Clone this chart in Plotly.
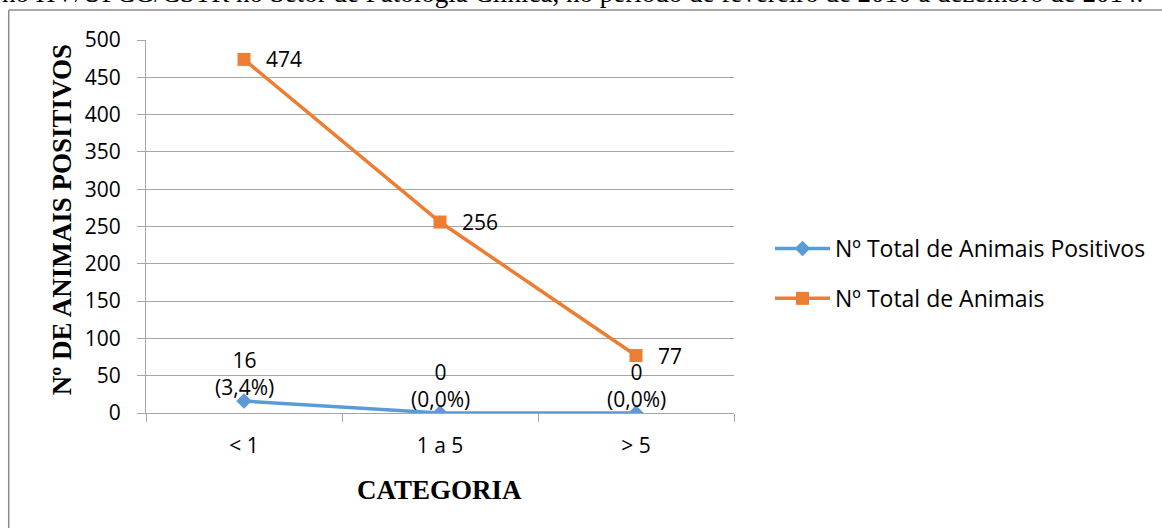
import plotly.graph_objects as go

# Age categories and counts
categorias = ["< 1", "1 a 5", "> 5"]
positivos = [16, 0, 0]
total = [474, 256, 77]

serie_pos = "Nº Total de Animais Positivos"
serie_tot = "Nº Total de Animais"

cabecalho = ("no HV/UFCG/CSTR no Setor de Patologia Clínica, no período de "
             "fevereiro de 2010 a dezembro de 2014.")

AZUL = "#5B9BD5"
LARANJA = "#ED7D31"
GRADE = "#A6A6A6"
SANS = "'Open Sans', Lato, sans-serif"
SERIF = "'Liberation Serif', 'Times New Roman', serif"

# plot area in pixels
W, H = 1162, 528
L, R, T, B = 146, 735, 40, 413


def px_x(p):
    return (p - L) / (R - L)


def px_y(p):
    return (B - p) / (B - T)


fig = go.Figure()
fig.add_trace(go.Scatter(
    x=categorias, y=positivos, name=serie_pos, mode="lines+markers",
    line=dict(color=AZUL, width=3.5),
    marker=dict(symbol="diamond", size=12, color=AZUL),
    legendgroup="a",
))
fig.add_trace(go.Scatter(
    x=categorias, y=total, name=serie_tot, mode="lines+markers",
    line=dict(color=LARANJA, width=3.5),
    marker=dict(symbol="square", size=13, color=LARANJA),
    legendgroup="b",
))

anots = []
# value labels for the total series, right of each point
for c, v in zip(categorias, total):
    anots.append(dict(x=c, y=v, xref="x", yref="y", text=str(v),
                      showarrow=False, xanchor="left", yanchor="middle",
                      xshift=20, font=dict(family=SANS, size=21, color="#000")))
# value + percentage labels for the positive series, above each point
for c, v, t in zip(categorias, positivos, total):
    pct = f"{100 * v / t:.1f}".replace(".", ",")
    anots.append(dict(x=c, y=v, xref="x", yref="y",
                      text=f"{v}<br>({pct}%)",
                      showarrow=False, xanchor="center", yanchor="bottom",
                      yshift=-2, font=dict(family=SANS, size=21, color="#000")))
# caption line running off the top edge
anots.append(dict(x=px_x(0), y=px_y(10), xref="paper", yref="paper",
                  text=cabecalho, showarrow=False, xanchor="left",
                  yanchor="bottom", font=dict(family=SERIF, size=27,
                                              color="#000")))
# axis titles
anots.append(dict(x=px_x(62), y=px_y(220), xref="paper", yref="paper",
                  text="<b>Nº DE ANIMAIS POSITIVOS</b>", textangle=-90,
                  showarrow=False, xanchor="center", yanchor="middle",
                  font=dict(family=SERIF, size=27, color="#000")))
anots.append(dict(x=px_x(440), y=px_y(490), xref="paper", yref="paper",
                  text="<b>CATEGORIA</b>", showarrow=False,
                  xanchor="center", yanchor="middle",
                  font=dict(family=SERIF, size=27, color="#000")))

# chart frame (top and left edges)
shapes = [
    dict(type="line", xref="paper", yref="paper",
         x0=px_x(8.5), x1=px_x(W + 5), y0=px_y(10), y1=px_y(10),
         line=dict(color="#8C8C8C", width=1.5)),
    dict(type="line", xref="paper", yref="paper",
         x0=px_x(8.5), x1=px_x(8.5), y0=px_y(10), y1=px_y(H + 5),
         line=dict(color="#8C8C8C", width=1.5)),
]

fig.update_layout(
    width=W, height=H,
    margin=dict(l=L, r=W - R, t=T, b=H - B),
    paper_bgcolor="white", plot_bgcolor="white",
    font=dict(family=SANS, size=21, color="#000"),
    showlegend=True,
    legend=dict(x=px_x(770), y=px_y(227), xanchor="left", yanchor="top",
                font=dict(family=SANS, size=23, color="#000"),
                tracegroupgap=17, itemwidth=55, bgcolor="rgba(0,0,0,0)"),
    annotations=anots,
    shapes=shapes,
    xaxis=dict(type="category", range=[-0.5, 2.5], tickson="boundaries",
               ticks="outside", ticklen=8, tickcolor=GRADE,
               showline=True, linecolor=GRADE, linewidth=1,
               showgrid=False, ticklabelstandoff=14,
               tickfont=dict(family=SANS, size=21, color="#000")),
    yaxis=dict(range=[0, 500], dtick=50, tick0=0, ticks="outside",
               ticklen=8, tickcolor=GRADE, showline=True, linecolor=GRADE,
               linewidth=1, showgrid=True, gridcolor=GRADE, gridwidth=1,
               zeroline=False, ticklabelstandoff=12,
               tickfont=dict(family=SANS, size=21, color="#000")),
)

fig.write_html("out.html")
